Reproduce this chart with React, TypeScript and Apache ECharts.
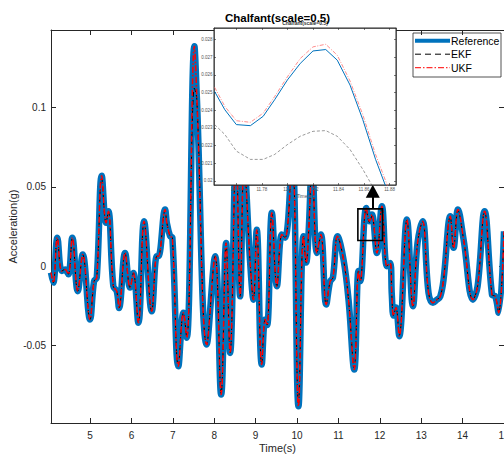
import React, { useEffect, useRef } from "react";
import * as echarts from "echarts";

// ---- main plot data (time in s, acceleration in g) ----
const mainTimes = [
  4.057, 4.113, 4.21, 4.316, 4.396, 4.475, 4.572, 4.703, 4.824, 5.0, 5.097, 5.162, 5.283, 5.387, 5.442,
  5.563, 5.645, 5.701, 5.846, 5.967, 6.047, 6.168, 6.305, 6.491, 6.612, 6.651, 6.813, 6.854, 6.934, 6.989,
  7.134, 7.255, 7.337, 7.521, 7.579, 7.821, 8.022, 8.167, 8.287, 8.384, 8.529, 8.626, 8.722, 8.868, 8.947,
  9.027, 9.148, 9.23, 9.278, 9.392, 9.513, 9.634, 9.714, 9.883, 10.035, 10.156, 10.222, 10.277, 10.366,
  10.48, 10.577, 10.705, 10.801, 10.867, 10.978, 11.123, 11.244, 11.382, 11.486, 11.527, 11.672, 11.752,
  11.809, 11.93, 12.051, 12.172, 12.25, 12.29, 12.331, 12.39, 12.469, 12.655, 12.8, 12.911, 13.032, 13.177,
  13.284, 13.38, 13.46, 13.54, 13.702, 13.782, 13.888, 14.024, 14.251, 14.362, 14.531, 14.71, 14.79, 14.87, 15.0,
];
const refMain = [
  -0.004, -0.0103, 0.0179, -0.003, -0.002, -0.005, 0.018, -0.0157, 0.0074, -0.0335, -0.0094, -0.0073, 0.057, 0.0273, 0.0346,
  -0.0126, -0.0157, -0.0262, 0.0084, -0.0134, -0.0042, -0.0356, 0.0283, -0.0283, 0.0063, 0.0063, 0.0357, 0.0275, 0.0189, 0.0179,
  -0.0629, -0.0293, -0.045, 0.1384, 0.107, -0.0492, 0.0063, -0.0807, 0.0147, -0.0545, 0.075, -0.0189, 0.065, 0.0023, -0.021,
  0.023, -0.0618, -0.0335, -0.037, 0.0336, -0.0126, 0.02, 0.018, 0.07, -0.088, 0.0189, 0.0023, 0.02, 0.065,
  0.0084, 0.0199, -0.0241, -0.0094, -0.0073, 0.0189, 0.0042, -0.021, -0.065, -0.003, -0.0094, 0.0367, 0.0283,
  0.0325, 0.0084, 0.0377, 0.0, 0.002, -0.018, -0.031, -0.026, -0.044, 0.0294, -0.0252, 0.0147, 0.0283, -0.0167,
  -0.023, -0.021, -0.019, -0.0084, 0.0314, 0.0116, 0.0357, 0.0168, -0.021, -0.0126, 0.0346, -0.0178, -0.019, -0.0293, 0.022,
];
const ekfMain = [
  -0.004, -0.0103, 0.0175, -0.003, -0.002, -0.005, 0.0176, -0.0157, 0.0072, -0.0335, -0.0094, -0.0073, 0.055, 0.0273, 0.0342,
  -0.0126, -0.0157, -0.0262, 0.0082, -0.0134, -0.0042, -0.0356, 0.0278, -0.0283, 0.0063, 0.0063, 0.035, 0.0275, 0.0189, 0.0179,
  -0.0625, -0.0293, -0.045, 0.112, 0.105, -0.0492, 0.0063, -0.08, 0.0145, -0.0545, 0.074, -0.0189, 0.064, 0.0023, -0.021,
  0.0225, -0.0615, -0.0335, -0.037, 0.033, -0.0126, 0.0196, 0.018, 0.069, -0.086, 0.0189, 0.0023, 0.0198, 0.064,
  0.0084, 0.0196, -0.0241, -0.0094, -0.0073, 0.0186, 0.0042, -0.021, -0.064, -0.003, -0.0094, 0.036, 0.0275,
  0.0318, 0.0084, 0.037, 0.0, 0.002, -0.018, -0.031, -0.026, -0.0435, 0.029, -0.0252, 0.0145, 0.028, -0.0167,
  -0.023, -0.021, -0.019, -0.0084, 0.031, 0.0116, 0.035, 0.0168, -0.021, -0.0126, 0.034, -0.0178, -0.019, -0.029, 0.0215,
];
const ukfMain = [
  -0.004, -0.0103, 0.0179, -0.003, -0.002, -0.005, 0.018, -0.0157, 0.0074, -0.0335, -0.0094, -0.0073, 0.057, 0.0273, 0.0346,
  -0.0126, -0.0157, -0.0262, 0.0084, -0.0134, -0.0042, -0.0356, 0.0283, -0.0283, 0.0063, 0.0063, 0.0357, 0.0275, 0.0189, 0.0179,
  -0.0629, -0.0293, -0.045, 0.1384, 0.107, -0.0492, 0.0063, -0.0807, 0.0147, -0.0545, 0.075, -0.0189, 0.065, 0.0023, -0.021,
  0.023, -0.0618, -0.0335, -0.037, 0.0336, -0.0126, 0.02, 0.018, 0.07, -0.088, 0.0189, 0.0023, 0.02, 0.065,
  0.0084, 0.0199, -0.0241, -0.0094, -0.0073, 0.0189, 0.0042, -0.021, -0.065, -0.003, -0.0094, 0.0367, 0.0283,
  0.0325, 0.0084, 0.0377, 0.0, 0.002, -0.018, -0.031, -0.026, -0.044, 0.0294, -0.0252, 0.0147, 0.0283, -0.0167,
  -0.023, -0.021, -0.019, -0.0084, 0.0314, 0.0116, 0.0357, 0.0168, -0.021, -0.0126, 0.0346, -0.0178, -0.019, -0.0293, 0.022,
];

// ---- inset (zoomed) data ----
const insetTimes = [
  11.743, 11.751, 11.76, 11.771, 11.781, 11.79, 11.8, 11.81, 11.82, 11.83, 11.839, 11.849, 11.859, 11.869, 11.879,
];
const refInset = [
  0.02506, 0.02403, 0.02319, 0.02313, 0.02366, 0.0246, 0.02572, 0.02665, 0.02736, 0.02744, 0.02684, 0.02543, 0.02347, 0.02122, 0.0193,
];
const ekfInset = [
  0.02319, 0.02263, 0.02169, 0.02122, 0.02122, 0.0215, 0.02206, 0.02253, 0.02281, 0.02285, 0.02253, 0.02178, 0.02066, 0.0194, 0.0178,
];
const ukfInset = [
  0.0253, 0.02422, 0.02341, 0.02332, 0.02384, 0.02478, 0.0259, 0.02693, 0.02759, 0.02774, 0.02712, 0.02566, 0.02375, 0.0215, 0.0196,
];

// ---- ticks / texts ----
const xTicksMain = [5, 6, 7, 8, 9, 10, 11, 12, 13, 14, 15];
const yTicksMain = [-0.05, 0, 0.05, 0.1];
const xTicksInset = [11.76, 11.78, 11.8, 11.82, 11.84, 11.86, 11.88];
const yTicksInset = [0.02, 0.021, 0.022, 0.023, 0.024, 0.025, 0.026, 0.027, 0.028];
const seriesNames = ["Reference", "EKF", "UKF"];
const titleText = "Chalfant(scale=0.5)";

// zoom annotation (data coordinates)
const zoomBoxCorners = [
  [11.47, 0.0361],
  [12.065, 0.0162],
];
const arrowX = 11.83;
const arrowFromTo = [0.0361, 0.0472];

const pair = (ts: number[], vs: number[]) => ts.map((t, i) => [t, vs[i]]);

const AX = "#262626";
const FONT = "'Liberation Sans', Arial, Helvetica, sans-serif";
const BLUE = "#0072BD";

// legend styles (layout only)
const mainLegendStyles = [
  { stroke: BLUE, lineWidth: 4 },
  { stroke: "#000", lineWidth: 1, lineDash: [6, 4] },
  { stroke: "#ff3030", lineWidth: 1.3, lineDash: [6, 2, 1.5, 2] },
];
const insetLegendStyles = [
  { stroke: BLUE, lineWidth: 0.8 },
  { stroke: "#555", lineWidth: 0.5, lineDash: [2, 1.2] },
  { stroke: "#ff7070", lineWidth: 0.6, lineDash: [2, 1, 0.6, 1] },
];

function legendGraphic(
  x: number,
  y: number,
  w: number,
  h: number,
  lineLen: number,
  rowGap: number,
  firstRowY: number,
  fontSize: number,
  styles: any[],
  borderW: number,
  textColor: string
) {
  const children: any[] = [
    { type: "rect", shape: { x, y, width: w, height: h }, style: { fill: "#fff", stroke: AX, lineWidth: borderW } },
  ];
  seriesNames.forEach((name, i) => {
    const cy = y + firstRowY + i * rowGap;
    children.push({
      type: "line",
      shape: { x1: x + 2, y1: cy, x2: x + 2 + lineLen, y2: cy },
      style: { ...styles[i], fill: null },
    });
    children.push({
      type: "text",
      x: x + 3 + lineLen,
      y: cy,
      style: { text: name, fontSize, fill: textColor, textVerticalAlign: "middle", textAlign: "left", fontFamily: FONT },
    });
  });
  return children;
}

export default function App() {
  const ref = useRef<HTMLDivElement>(null);
  useEffect(() => {
    if (!ref.current) return;
    const chart = echarts.init(ref.current, undefined, { renderer: "svg" });
    const tickStyle = { color: AX, width: 1 };
    const insetTick = { color: AX, width: 0.6 };
    const option: any = {
      animation: false,
      textStyle: { fontFamily: FONT },
      grid: [
        { left: 51, right: 0, top: 30, bottom: 31, containLabel: false, outerBoundsMode: "none" },
        {
          left: 214,
          top: 28,
          width: 182,
          height: 157,
          show: true,
          backgroundColor: "#ffffff",
          borderColor: AX,
          borderWidth: 1,
          z: 3,
          containLabel: false,
          outerBoundsMode: "none",
        },
      ],
      xAxis: [
        {
          gridIndex: 0,
          type: "value",
          min: 4.057,
          max: 15,
          position: "bottom",
          axisLine: { show: true, onZero: false, lineStyle: tickStyle },
          axisTick: { show: true, inside: true, length: 5, customValues: xTicksMain, lineStyle: tickStyle },
          axisLabel: { customValues: xTicksMain, fontSize: 10, color: AX, margin: 7, fontFamily: FONT },
          splitLine: { show: false },
          name: "Time(s)",
          nameLocation: "middle",
          nameGap: 19,
          nameMoveOverlap: false,
          nameTextStyle: { fontSize: 11, color: AX, fontFamily: FONT },
        },
        {
          gridIndex: 0,
          type: "value",
          min: 4.057,
          max: 15,
          position: "top",
          axisLine: { show: true, onZero: false, lineStyle: tickStyle },
          axisTick: { show: true, inside: true, length: 5, customValues: xTicksMain, lineStyle: tickStyle },
          axisLabel: { show: false },
          splitLine: { show: false },
        },
        {
          gridIndex: 1,
          type: "value",
          min: 11.7425,
          max: 11.885,
          position: "bottom",
          z: 4,
          axisLine: { show: true, onZero: false, lineStyle: insetTick },
          axisTick: { show: true, inside: true, length: 2, customValues: xTicksInset, lineStyle: insetTick },
          axisLabel: {
            customValues: xTicksInset,
            fontSize: 4.5,
            color: "#555",
            margin: 2,
            formatter: (v: number) => String(+v.toFixed(2)),
          },
          splitLine: { show: false },
          name: "Time(s)",
          nameLocation: "middle",
          nameGap: 8,
          nameMoveOverlap: false,
          nameTextStyle: { fontSize: 5, color: "#555" },
        },
        {
          gridIndex: 1,
          type: "value",
          min: 11.7425,
          max: 11.885,
          position: "top",
          z: 4,
          axisLine: { show: true, onZero: false, lineStyle: insetTick },
          axisTick: { show: true, inside: true, length: 2, customValues: xTicksInset, lineStyle: insetTick },
          axisLabel: { show: false },
          splitLine: { show: false },
        },
      ],
      yAxis: [
        {
          gridIndex: 0,
          type: "value",
          min: -0.0986,
          max: 0.1486,
          position: "left",
          axisLine: { show: true, onZero: false, lineStyle: tickStyle },
          axisTick: { show: true, inside: true, length: 5, customValues: yTicksMain, lineStyle: tickStyle },
          axisLabel: { customValues: yTicksMain, fontSize: 10, color: AX, margin: 5, fontFamily: FONT },
          splitLine: { show: false },
          name: "Acceleration(g)",
          nameLocation: "middle",
          nameRotate: 90,
          nameGap: 33,
          nameMoveOverlap: false,
          nameTextStyle: { fontSize: 11, color: AX, fontFamily: FONT },
        },
        {
          gridIndex: 0,
          type: "value",
          min: -0.0986,
          max: 0.1486,
          position: "right",
          axisLine: { show: true, onZero: false, lineStyle: tickStyle },
          axisTick: { show: true, inside: true, length: 5, customValues: yTicksMain, lineStyle: tickStyle },
          axisLabel: { show: false },
          splitLine: { show: false },
        },
        {
          gridIndex: 1,
          type: "value",
          min: 0.01977,
          max: 0.02866,
          position: "left",
          z: 4,
          axisLine: { show: true, onZero: false, lineStyle: insetTick },
          axisTick: { show: true, inside: true, length: 2, customValues: yTicksInset, lineStyle: insetTick },
          axisLabel: {
            customValues: yTicksInset,
            fontSize: 4.5,
            color: "#555",
            margin: 1.5,
            formatter: (v: number) => String(+v.toFixed(3)),
          },
          splitLine: { show: false },
        },
        {
          gridIndex: 1,
          type: "value",
          min: 0.01977,
          max: 0.02866,
          position: "right",
          z: 4,
          axisLine: { show: true, onZero: false, lineStyle: insetTick },
          axisTick: { show: true, inside: true, length: 2, customValues: yTicksInset, lineStyle: insetTick },
          axisLabel: { show: false },
          splitLine: { show: false },
        },
      ],
      graphic: [
        {
          type: "group",
          z: 8,
          children: legendGraphic(413, 33, 88, 44, 35, 13.5, 7.7, 10.5, mainLegendStyles, 0.8, "#000"),
        },
        {
          type: "group",
          z: 8,
          children: legendGraphic(359, 29, 35, 16, 10, 4.5, 3.5, 3.5, insetLegendStyles, 0.5, "#333"),
        },
        {
          type: "text",
          x: 305,
          y: 23,
          z: 9,
          style: { text: titleText, fontSize: 5, fontWeight: "bold", fill: "#333", textAlign: "center", textVerticalAlign: "middle", fontFamily: FONT },
        },
        {
          type: "text",
          x: 277.5,
          y: 18,
          z: 10,
          style: { text: titleText, fontSize: 11.5, fontWeight: "bold", fill: "#000", textAlign: "center", textVerticalAlign: "middle", fontFamily: FONT },
        },
      ],
      series: [
        {
          name: seriesNames[0],
          type: "line",
          xAxisIndex: 0,
          yAxisIndex: 0,
          data: pair(mainTimes, refMain),
          symbol: "none",
          showSymbol: false,
          smooth: 0.4,
          color: BLUE,
          lineStyle: { color: BLUE, width: 6.5 },
          z: 2,
        },
        {
          name: seriesNames[1],
          type: "line",
          xAxisIndex: 0,
          yAxisIndex: 0,
          data: pair(mainTimes, ekfMain),
          symbol: "none",
          showSymbol: false,
          smooth: 0.4,
          color: "#000000",
          lineStyle: { color: "#000000", width: 1, type: [5, 3] },
          z: 2,
        },
        {
          name: seriesNames[2],
          type: "line",
          xAxisIndex: 0,
          yAxisIndex: 0,
          data: pair(mainTimes, ukfMain),
          symbol: "none",
          showSymbol: false,
          smooth: 0.4,
          color: "#FF0000",
          lineStyle: { color: "#FF0000", width: 1.5, type: [6, 2, 1.5, 2] },
          z: 2,
          markArea: {
            silent: true,
            z: 2.5,
            itemStyle: { color: "rgba(0,0,0,0)", borderColor: "#000", borderWidth: 1.6 },
            label: { show: false },
            data: [[{ coord: zoomBoxCorners[0] }, { coord: zoomBoxCorners[1] }]],
          },
          markLine: {
            silent: true,
            z: 2.5,
            symbol: ["none", "triangle"],
            symbolSize: [14, 13],
            label: { show: false },
            lineStyle: { color: "#000", width: 2, type: "solid" },
            data: [[{ coord: [arrowX, arrowFromTo[0]] }, { coord: [arrowX, arrowFromTo[1]] }]],
          },
        },
        {
          name: seriesNames[0],
          type: "line",
          xAxisIndex: 2,
          yAxisIndex: 2,
          data: pair(insetTimes, refInset),
          symbol: "none",
          showSymbol: false,
          lineStyle: { color: BLUE, width: 1 },
          z: 5,
        },
        {
          name: seriesNames[1],
          type: "line",
          xAxisIndex: 2,
          yAxisIndex: 2,
          data: pair(insetTimes, ekfInset),
          symbol: "none",
          showSymbol: false,
          lineStyle: { color: "#555", width: 0.6, type: [3, 2] },
          z: 5,
        },
        {
          name: seriesNames[2],
          type: "line",
          xAxisIndex: 2,
          yAxisIndex: 2,
          data: pair(insetTimes, ukfInset),
          symbol: "none",
          showSymbol: false,
          lineStyle: { color: "#ff7070", width: 0.8, type: [4, 1.5, 1, 1.5] },
          z: 5,
        },
      ],
    };
    chart.setOption(option);
    return () => chart.dispose();
  }, []);
  return (
    <div
      ref={ref}
      style={{ position: "fixed", left: 0, top: 0, width: 504, height: 454, background: "#fff" }}
    />
  );
}
